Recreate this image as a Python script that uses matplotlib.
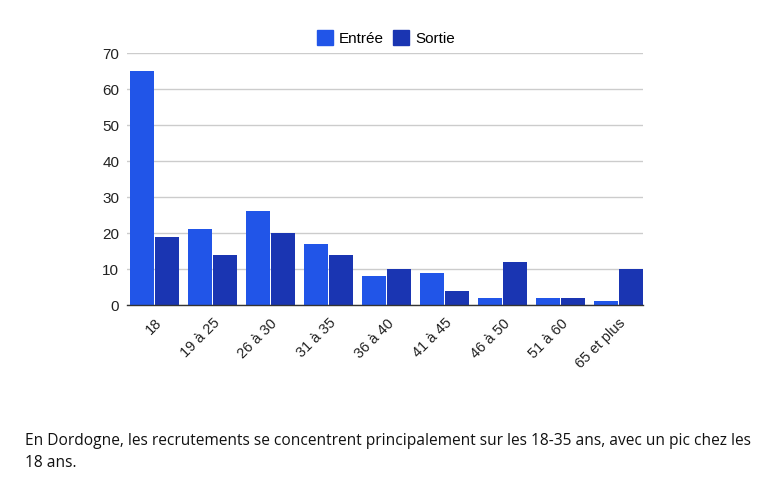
import matplotlib
matplotlib.use("Agg")
import matplotlib.pyplot as plt
import numpy as np
from matplotlib.patches import Patch

categories = ["18", "19 à 25", "26 à 30", "31 à 35", "36 à 40", "41 à 45", "46 à 50", "51 à 60", "65 et plus"]
entree = [65, 21, 26, 17, 8, 9, 2, 2, 1]
sortie = [19, 14, 20, 14, 10, 4, 12, 2, 10]
yticks = [0, 10, 20, 30, 40, 50, 60, 70]
caption = "En Dordogne, les recrutements se concentrent principalement sur les 18-35 ans, avec un pic chez les\n18 ans."

c_entree = "#2155E8"
c_sortie = "#1A35B2"

W, H = 763, 490
fig = plt.figure(figsize=(W / 100, H / 100), dpi=100)
ax = fig.add_axes([127 / W, 1 - 305 / H, (643 - 127) / W, (305 - 53) / H])

x = np.arange(len(categories))
bw = 0.415
gap = 0.01
ax.bar(x - bw / 2 - gap / 2, entree, width=bw, color=c_entree, zorder=3)
ax.bar(x + bw / 2 + gap / 2, sortie, width=bw, color=c_sortie, zorder=3)

half = bw + gap / 2
ax.set_xlim(-half - 0.05, len(categories) - 1 + half)
ax.set_ylim(0, 70)
ax.set_yticks(yticks)
ax.set_yticklabels([str(v) for v in yticks], fontsize=11, family="Liberation Sans", color="#222222")
ax.yaxis.grid(True, color="#cccccc", linewidth=1, zorder=0)
ax.tick_params(axis="y", length=0, pad=5.5)
ax.tick_params(axis="x", length=0, pad=8)
ax.set_xticks(x)
ax.set_xticklabels(categories, rotation=45, ha="right", rotation_mode="anchor",
                   fontsize=10.5, family="Liberation Sans", color="#222222")
for s in ["top", "right", "left"]:
    ax.spines[s].set_visible(False)
ax.spines["bottom"].set_color("#333333")
ax.spines["bottom"].set_linewidth(1)
ax.spines["bottom"].set_zorder(4)

handles = [Patch(color=c_entree, label="Entrée"), Patch(color=c_sortie, label="Sortie")]
fig.legend(handles=handles, loc="center", bbox_to_anchor=(386 / W, 1 - 38 / H), ncol=2,
           frameon=False, prop={"family": "Liberation Sans", "size": 11},
           handlelength=1.05, handleheight=1.05, handletextpad=0.4, columnspacing=0.6)

fig.text(25 / W, 1 - 452 / H, caption, fontsize=11.2, family="Open Sans", color="#111111",
         va="center", ha="left", linespacing=1.5)

fig.savefig("out.png", dpi=100)
